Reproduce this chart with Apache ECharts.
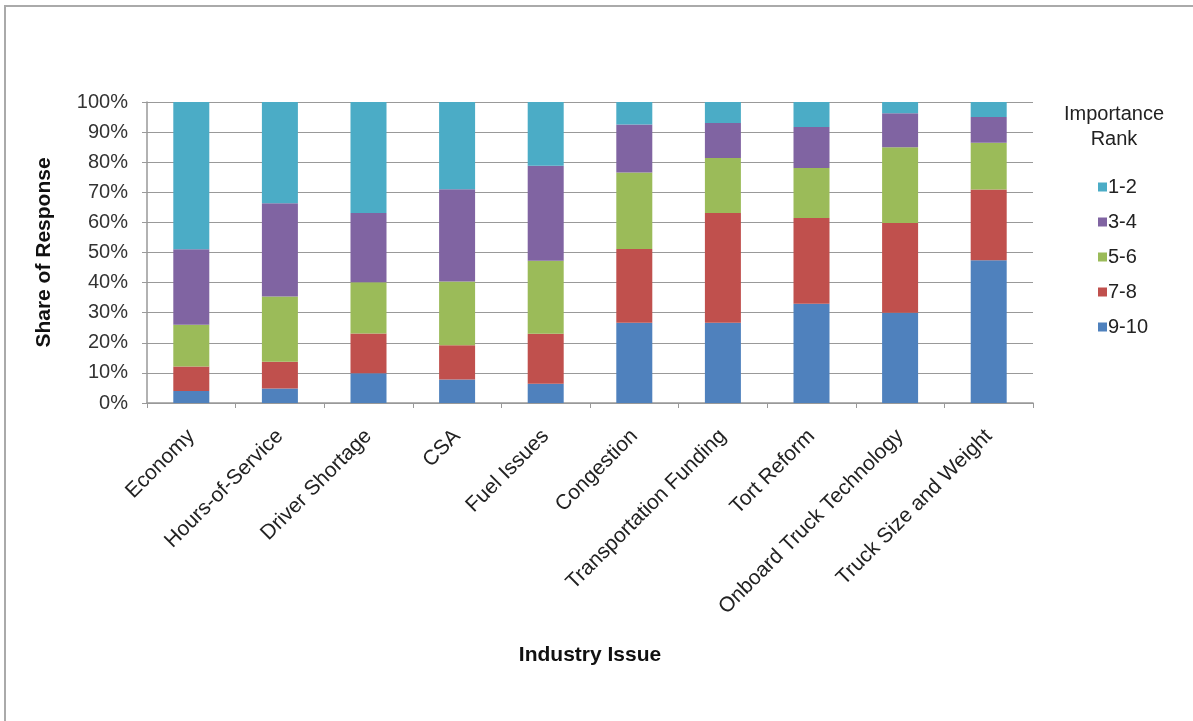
<!DOCTYPE html>
<html>
<head>
<meta charset="utf-8">
<script src="https://cdn.jsdelivr.net/npm/echarts@6/dist/echarts.min.js"></script>
<style>
html,body{margin:0;padding:0;background:#fff;}
#chart{width:1193px;height:721px;}
</style>
</head>
<body>
<div id="chart"></div>
<script>
var categories = ["Economy","Hours-of-Service","Driver Shortage","CSA","Fuel Issues","Congestion","Transportation Funding","Tort Reform","Onboard Truck Technology","Truck Size and Weight"];
var rank9to10 = [4.0, 4.8, 9.9, 7.8, 6.4, 26.7, 26.7, 33.0, 30.0, 47.4];
var rank7to8  = [8.1, 8.9, 13.2, 11.4, 16.6, 24.5, 36.4, 28.5, 29.8, 23.5];
var rank5to6  = [13.9, 21.7, 17.0, 21.2, 24.3, 25.4, 18.3, 16.6, 25.2, 15.6];
var rank3to4  = [25.1, 31.0, 23.0, 30.6, 31.5, 15.9, 11.6, 13.6, 11.3, 8.5];
var rank1to2  = [48.9, 33.6, 36.9, 29.0, 21.2, 7.5, 7.0, 8.3, 3.7, 5.0];
var yTicks = [0,10,20,30,40,50,60,70,80,90,100];

var seriesDefs = [
  {name:"9-10", data:rank9to10, color:"#4F81BD"},
  {name:"7-8",  data:rank7to8,  color:"#C0504D"},
  {name:"5-6",  data:rank5to6,  color:"#9BBB59"},
  {name:"3-4",  data:rank3to4,  color:"#8064A2"},
  {name:"1-2",  data:rank1to2,  color:"#4BACC6"}
];

var font = "'Liberation Sans', Arial, sans-serif";
var chart = echarts.init(document.getElementById('chart'), null, {renderer:'canvas'});
chart.setOption({
  animation:false,
  backgroundColor:'#fff',
  textStyle:{fontFamily:font},
  graphic:[
    {type:'rect', shape:{x:5, y:6, width:1300, height:800}, style:{fill:'none', stroke:'#aaaaaa', lineWidth:2}, silent:true},
    {type:'text', x:1114, y:102, style:{text:'Importance\nRank', font:'20px '+font, fill:'#222', lineHeight:25, align:'center', verticalAlign:'top'}}
  ],
  legend:{
    orient:'vertical',
    left:1093, top:172,
    itemWidth:9, itemHeight:9, itemGap:15,
    icon:'rect',
    data:["1-2","3-4","5-6","7-8","9-10"],
    textStyle:{fontSize:20, color:'#222', fontFamily:font, padding:[0,0,0,-4]}
  },
  grid:{left:147, right:160, top:102, bottom:318, containLabel:false},
  xAxis:{
    type:'category',
    data:categories,
    name:'Industry Issue',
    nameLocation:'middle',
    nameGap:242,
    nameTextStyle:{fontSize:21, fontWeight:'bold', color:'#111', fontFamily:font},
    axisLine:{lineStyle:{color:'#999', width:1.5}},
    axisTick:{show:true, alignWithLabel:false, length:5, lineStyle:{color:'#999'}},
    axisLabel:{rotate:45, fontSize:21, color:'#222', margin:30, interval:0, fontFamily:font}
  },
  yAxis:{
    type:'value',
    min:0, max:100, interval:10,
    name:'Share of Response',
    nameLocation:'middle',
    nameGap:92,
    nameTextStyle:{fontSize:21, fontWeight:'bold', color:'#111', fontFamily:font},
    axisLine:{show:true, lineStyle:{color:'#999', width:1.5}},
    axisTick:{show:true, length:5, lineStyle:{color:'#999'}},
    axisLabel:{fontSize:20, color:'#333', margin:19, formatter:function(v){return v+'%';}, fontFamily:font},
    splitLine:{show:true, lineStyle:{color:'#999', width:1.2}}
  },
  series:seriesDefs.map(function(s){
    return {
      name:s.name, type:'bar', stack:'total', data:s.data,
      barWidth:36,
      itemStyle:{color:s.color},
      emphasis:{disabled:true}
    };
  })
});
</script>
</body>
</html>
